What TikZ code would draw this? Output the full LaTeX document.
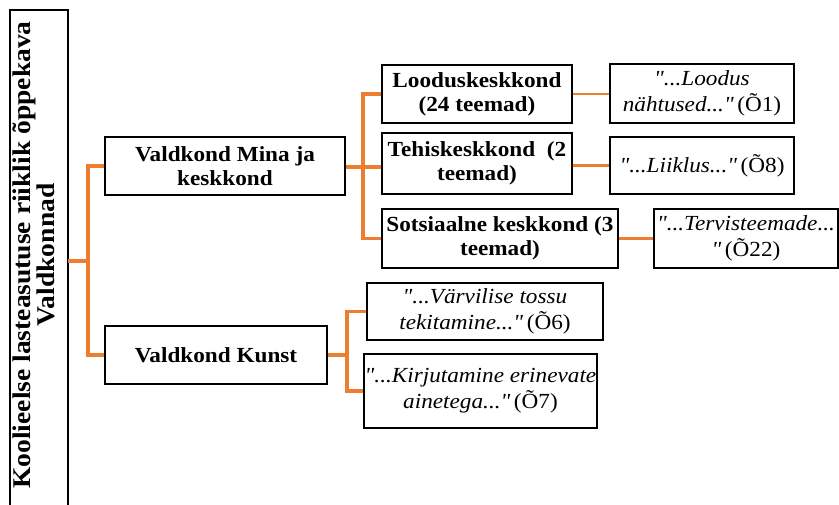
\documentclass[tikz,border=0pt]{standalone}
\usepackage{fontspec}
\setmainfont{Liberation Serif}
\newfontfamily\boxfont[FakeStretch=1.08]{Liberation Serif}
\definecolor{orng}{HTML}{ED7D31}
\begin{document}
\begin{tikzpicture}[x=1pt,y=-1pt,
  box/.style={draw=black, line width=2pt, inner sep=0pt, align=center, fill=white},
  bbox/.style={box, font=\boxfont\bfseries\fontsize{21.5}{24}\selectfont},
  qbox/.style={box, font=\boxfont\itshape\fontsize{21.5}{26}\selectfont},
  conn/.style={draw=orng, line width=3.2pt},
  thin/.style={draw=orng, line width=2.4pt}]
\useasboundingbox (0,0) rectangle (839,505);
% root box (open at the bottom)
\node[minimum width=58pt, minimum height=495pt, inner sep=0pt, anchor=north west] (root) at (10,10) {};
\draw[line width=2pt] (root.south west) -- (root.north west) -- (root.north east) -- (root.south east);
\node[rotate=90, align=center, inner sep=0pt, font=\boxfont\bfseries\fontsize{25.5}{21}\selectfont] (roottxt) at (34,255)
  {Koolieelse lasteasutuse riiklik õppekava\\Valdkonnad};
% level 1
\node[bbox, minimum width=240pt, minimum height=58pt] (mina) at (225,166) {Valdkond Mina ja\\keskkond};
\node[bbox, minimum width=222pt, minimum height=58pt] (kunst) at (216,355) {Valdkond Kunst};
% level 2
\node[bbox, minimum width=190pt, minimum height=58pt] (lood) at (477,94) {Looduskeskkond\\(24 teemad)};
\node[bbox, minimum width=190pt, minimum height=61pt] (teh) at (477,163.5) {Tehiskeskkond~~(2\\teemad)};
\node[bbox, minimum width=236pt, minimum height=59pt] (sots) at (500,238.5) {Sotsiaalne keskkond (3\\teemad)};
% quotes
\node[qbox, minimum width=184pt, minimum height=59pt] (q1) at (702,93.5) {"...Loodus\\nähtused..."\,\upshape(Õ1)};
\node[qbox, minimum width=184pt, minimum height=57pt] (q8) at (702,165.5) {"...Liiklus..."\,\upshape(Õ8)};
\node[qbox, minimum width=184pt, minimum height=59pt] (q22) at (746,238.5) {"...Tervisteemade...\\"\,\upshape(Õ22)};
\node[qbox, minimum width=236pt, minimum height=57pt] (q6) at (485,311.5) {"...Värvilise tossu\\tekitamine..."\,\upshape(Õ6)};
\node[qbox, minimum width=233pt, minimum height=74pt] (q7) at (480.5,391) {"...Kirjutamine erinevate\\ainetega..."\,\upshape(Õ7)};
% junctions
\coordinate (j1) at (88,261);
\coordinate (j2) at (363,167);
\coordinate (j3) at (347,355);
% connectors
\draw[conn] (root.east |- j1) -- (j1);
\draw[conn] (mina.west) -| (j1) |- (kunst.west);
\draw[conn] (mina.east |- j2) -- (j2);
\draw[conn] (lood.west) -| (j2) |- (sots.west);
\draw[conn] (j2) -- (j2 -| teh.west);
\draw[conn] (kunst.east) -- (j3);
\draw[conn] (q6.west) -| (j3) |- (q7.west);
\draw[thin] (lood.east) -- (lood.east -| q1.west);
\draw[thin] (q8.west -| teh.east) -- (q8.west);
\draw[thin] (sots.east) -- (q22.west);
\end{tikzpicture}
\end{document}
